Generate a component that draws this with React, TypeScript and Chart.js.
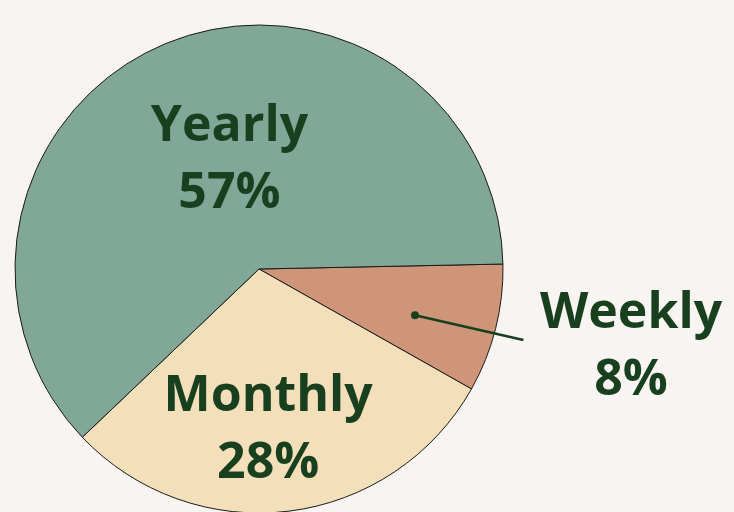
import React, { useEffect, useRef } from "react";
import { Chart, registerables } from "chart.js";

Chart.register(...registerables);

const categories = ["Weekly", "Monthly", "Yearly"];
const shares = [7.9, 27.6, 57.4];
const percentLabels = ["8%", "28%", "57%"];
const sliceColors = ["#cf9579", "#f3dfba", "#80a797"];

const BG = "#f8f4f1";
const TEXT = "#183f1e";

// label placement relative to each arc: [radius fraction, angle offset (deg)]
const labelPlacement = [
  { frac: 1.571, dAng: -0.2, outside: true },
  { frac: 0.722, dAng: 4.1, outside: false },
  { frac: 0.405, dAng: 5.0, outside: false },
];

const labelPlugin = {
  id: "pieLabels",
  afterDatasetsDraw(chart: any) {
    const ctx = chart.ctx;
    const meta = chart.getDatasetMeta(0);
    meta.data.forEach((arc: any, i: number) => {
      const { x, y, startAngle, endAngle, outerRadius } = arc.getProps(
        ["x", "y", "startAngle", "endAngle", "outerRadius"],
        true
      );
      const mid = (startAngle + endAngle) / 2;
      const p = labelPlacement[i];
      const a = mid + (p.dAng * Math.PI) / 180;
      const tx = x + Math.cos(a) * outerRadius * p.frac;
      const ty = y + Math.sin(a) * outerRadius * p.frac;
      ctx.save();
      if (p.outside) {
        const a1 = mid + (2.4 * Math.PI) / 180;
        const a2 = mid + (0.9 * Math.PI) / 180;
        const dx = x + Math.cos(a1) * outerRadius * 0.667;
        const dy = y + Math.sin(a1) * outerRadius * 0.667;
        const ex = x + Math.cos(a2) * outerRadius * 1.122;
        const ey = y + Math.sin(a2) * outerRadius * 1.122;
        ctx.strokeStyle = TEXT;
        ctx.fillStyle = TEXT;
        ctx.lineWidth = 2.5;
        ctx.beginPath();
        ctx.moveTo(dx, dy);
        ctx.lineTo(ex, ey);
        ctx.stroke();
        ctx.beginPath();
        ctx.arc(dx, dy, 4, 0, Math.PI * 2);
        ctx.fill();
      }
      ctx.fillStyle = TEXT;
      ctx.font = "bold 50px 'Open Sans', 'Noto Sans', sans-serif";
      ctx.textAlign = "center";
      ctx.textBaseline = "alphabetic";
      ctx.fillText(categories[i], tx, ty - 33.5);
      ctx.fillText(percentLabels[i], tx, ty + 33.5);
      ctx.restore();
    });
  },
};

export default function App() {
  const ref = useRef<HTMLCanvasElement | null>(null);
  useEffect(() => {
    if (!ref.current) return;
    const chart = new Chart(ref.current, {
      type: "pie",
      data: {
        labels: categories,
        datasets: [
          {
            data: shares,
            backgroundColor: sliceColors,
            borderColor: "#1a1a1a",
            borderWidth: 1,
            radius: 244,
          } as any,
        ],
      },
      options: {
        animation: false,
        responsive: true,
        maintainAspectRatio: false,
        rotation: 88.83,
        layout: { padding: { left: 1, right: 217, top: 0, bottom: 0 } },
        plugins: {
          legend: { display: false },
          tooltip: { enabled: false },
        },
      },
      plugins: [labelPlugin],
    });
    return () => chart.destroy();
  }, []);
  return (
    <div
      style={{
        position: "fixed",
        left: 0,
        top: 0,
        width: 734,
        height: 512,
        overflow: "hidden",
        background: BG,
      }}
    >
      <div style={{ position: "absolute", left: 0, top: 0, width: 734, height: 538 }}>
        <canvas ref={ref} />
      </div>
    </div>
  );
}
